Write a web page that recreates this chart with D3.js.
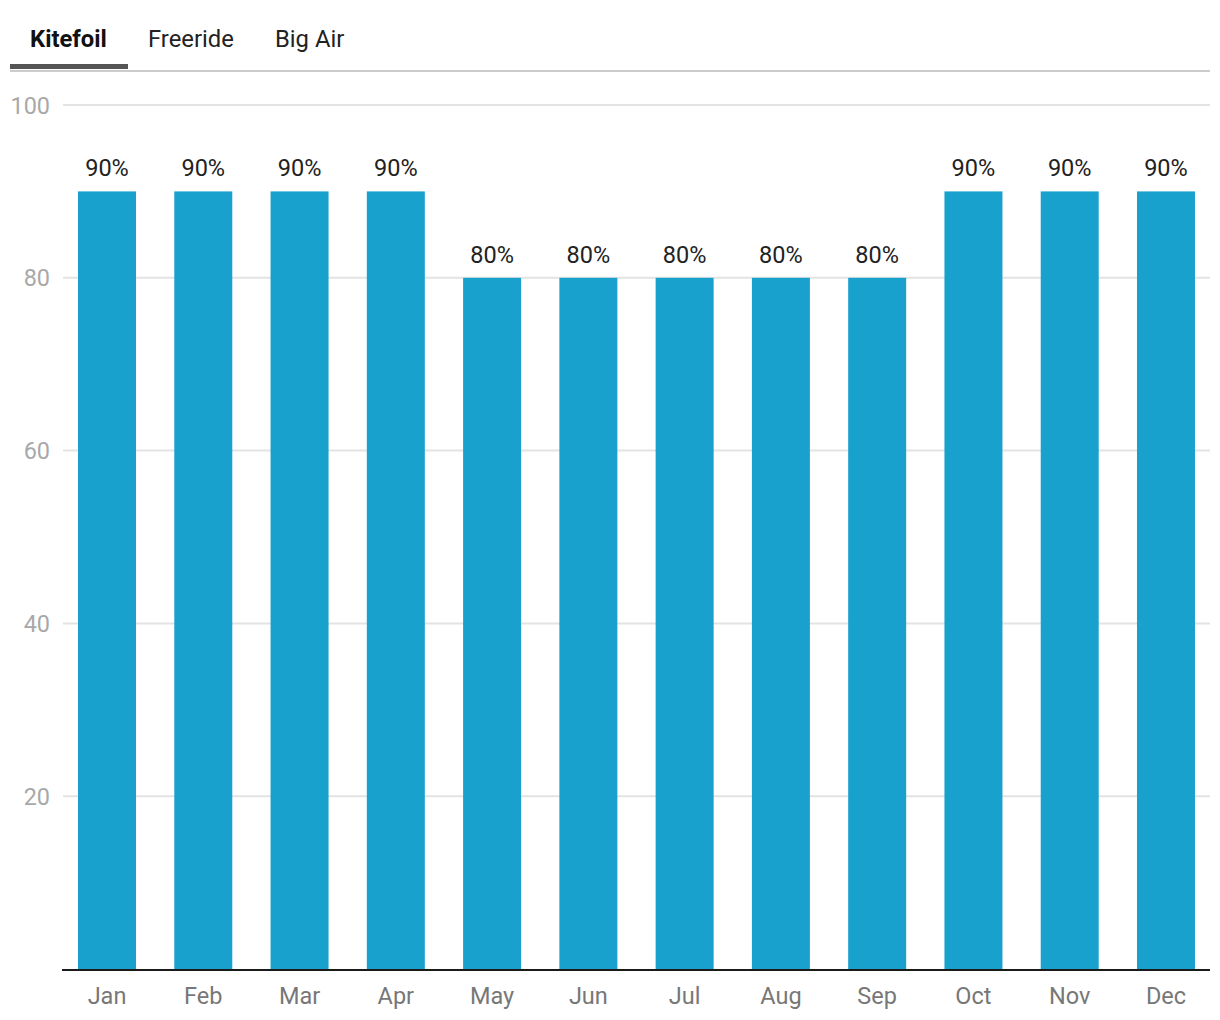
<!DOCTYPE html>
<html><head><meta charset="utf-8">
<script src="https://cdn.jsdelivr.net/npm/d3@7"></script>
<style>
body{margin:0;background:#fff;font-family:Roboto,"Noto Sans",sans-serif;}
</style></head>
<body><svg id="c" width="1220" height="1020"></svg>
<script>
const tabs = ["Kitefoil","Freeride","Big Air"];
const months = ["Jan","Feb","Mar","Apr","May","Jun","Jul","Aug","Sep","Oct","Nov","Dec"];
const values = [90,90,90,90,80,80,80,80,80,90,90,90];
const yTicks = [20,40,60,80,100];

const svg = d3.select("#c");
const mLeft = 63, mRight = 1210, mTop = 105, mBottom = 969;

// tabs
const tabX = [30,148,275];
svg.append("line").attr("x1",10).attr("x2",1210).attr("y1",71).attr("y2",71)
  .attr("stroke","#cccccc").attr("stroke-width",2);
svg.append("rect").attr("x",10).attr("y",64).attr("width",118).attr("height",5).attr("fill","#555555");
svg.selectAll(".tab").data(tabs).join("text")
  .attr("x",(d,i)=>tabX[i]).attr("y",46.5)
  .attr("font-size",23.8).attr("font-weight",(d,i)=>i===0?700:400)
  .attr("fill",(d,i)=>i===0?"#111":"#222")
  .text(d=>d);

const x = d3.scaleBand().domain(months).range([mLeft,mRight]).paddingInner(0.3975).paddingOuter(0.156);
const y = d3.scaleLinear().domain([0,100]).range([mBottom,mTop]);

// grid
svg.append("g").selectAll("line").data(yTicks).join("line")
  .attr("x1",mLeft).attr("x2",mRight).attr("y1",d=>y(d)).attr("y2",d=>y(d))
  .attr("stroke","#e3e3e3").attr("stroke-width",2);
svg.append("g").selectAll("text").data(yTicks).join("text")
  .attr("x",50).attr("y",d=>y(d)+8.5).attr("text-anchor","end")
  .attr("font-size",23.4).attr("fill","#a8a8a8").text(d=>d);

// bars
svg.append("g").selectAll("rect").data(values).join("rect")
  .attr("x",(d,i)=>x(months[i])).attr("width",x.bandwidth())
  .attr("y",d=>y(d)).attr("height",d=>y(0)-y(d)).attr("fill","#19a1ce");

svg.append("g").selectAll("text").data(values).join("text")
  .attr("x",(d,i)=>x(months[i])+x.bandwidth()/2).attr("y",d=>y(d)-15)
  .attr("text-anchor","middle").attr("font-size",23.5).attr("fill","#222")
  .text(d=>d+"%");

// axis line
svg.append("line").attr("x1",mLeft-1).attr("x2",mRight).attr("y1",mBottom+1).attr("y2",mBottom+1)
  .attr("stroke","#1a1a1a").attr("stroke-width",2);

svg.append("g").selectAll("text").data(months).join("text")
  .attr("x",d=>x(d)+x.bandwidth()/2).attr("y",1004)
  .attr("text-anchor","middle").attr("font-size",23.5).attr("fill","#777")
  .text(d=>d);
</script></body></html>
